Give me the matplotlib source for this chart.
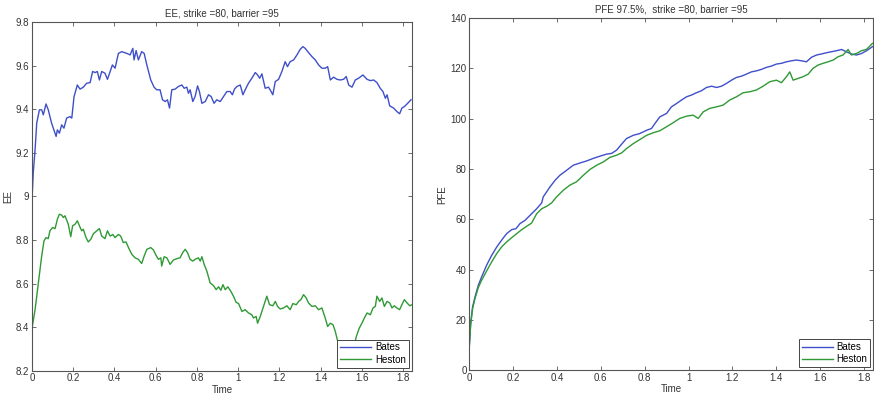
import numpy as np
import matplotlib
matplotlib.use('Agg')
import matplotlib.pyplot as plt

plt.rcParams['font.family'] = ['Liberation Sans', 'DejaVu Sans']

# EE, Bates
ee_bates_t = [0, 0.006, 0.015, 0.023, 0.036, 0.047, 0.055, 0.068, 0.079, 0.095,
              0.117, 0.123, 0.133, 0.144, 0.155, 0.168, 0.184, 0.193, 0.204, 0.220,
              0.233, 0.249, 0.265, 0.282, 0.294, 0.306, 0.317, 0.327, 0.338, 0.354,
              0.366, 0.379, 0.390, 0.403, 0.419, 0.435, 0.460, 0.476, 0.489, 0.495,
              0.505, 0.516, 0.532, 0.544, 0.557, 0.576, 0.592, 0.605, 0.621, 0.633,
              0.646, 0.657, 0.667, 0.678, 0.694, 0.710, 0.727, 0.738, 0.751, 0.759,
              0.767, 0.780, 0.791, 0.803, 0.812, 0.824, 0.840, 0.856, 0.869, 0.883,
              0.896, 0.913, 0.929, 0.945, 0.961, 0.972, 0.982, 0.994, 1.010, 1.023,
              1.034, 1.050, 1.066, 1.083, 1.094, 1.104, 1.115, 1.131, 1.147, 1.155,
              1.168, 1.180, 1.196, 1.212, 1.228, 1.239, 1.252, 1.269, 1.285, 1.301,
              1.314, 1.325, 1.341, 1.358, 1.374, 1.390, 1.406, 1.422, 1.434, 1.447,
              1.463, 1.479, 1.495, 1.511, 1.524, 1.536, 1.552, 1.568, 1.584, 1.605,
              1.625, 1.641, 1.657, 1.673, 1.689, 1.702, 1.714, 1.722, 1.735, 1.754,
              1.770, 1.783, 1.794, 1.806, 1.822, 1.838]
ee_bates = [8.98, 9.107, 9.214, 9.336, 9.397, 9.397, 9.374, 9.424, 9.397, 9.336,
            9.275, 9.305, 9.29, 9.328, 9.313, 9.359, 9.366, 9.359, 9.458, 9.511,
            9.492, 9.501, 9.519, 9.522, 9.573, 9.568, 9.573, 9.534, 9.573, 9.565,
            9.537, 9.573, 9.603, 9.588, 9.656, 9.664, 9.656, 9.649, 9.679, 9.626,
            9.669, 9.626, 9.664, 9.656, 9.603, 9.534, 9.501, 9.489, 9.489, 9.443,
            9.435, 9.443, 9.405, 9.489, 9.492, 9.504, 9.511, 9.496, 9.501, 9.473,
            9.489, 9.435, 9.458, 9.507, 9.481, 9.427, 9.435, 9.466, 9.458, 9.427,
            9.443, 9.435, 9.458, 9.481, 9.481, 9.466, 9.492, 9.504, 9.511, 9.466,
            9.489, 9.519, 9.542, 9.568, 9.557, 9.542, 9.562, 9.496, 9.501, 9.489,
            9.466, 9.527, 9.537, 9.573, 9.618, 9.595, 9.618, 9.626, 9.649, 9.675,
            9.687, 9.679, 9.66, 9.641, 9.626, 9.603, 9.588, 9.588, 9.595, 9.534,
            9.547, 9.537, 9.534, 9.537, 9.55, 9.511, 9.501, 9.534, 9.542, 9.557,
            9.537, 9.531, 9.534, 9.522, 9.496, 9.481, 9.45, 9.466, 9.415, 9.405,
            9.389, 9.379, 9.405, 9.412, 9.427, 9.443]

# EE, Heston
ee_heston_t = [0, 0.015, 0.031, 0.047, 0.058, 0.068, 0.079, 0.087, 0.100, 0.112,
               0.123, 0.133, 0.144, 0.152, 0.160, 0.168, 0.176, 0.188, 0.197, 0.209,
               0.220, 0.230, 0.241, 0.249, 0.262, 0.273, 0.285, 0.298, 0.314, 0.327,
               0.338, 0.354, 0.366, 0.379, 0.392, 0.403, 0.419, 0.430, 0.443, 0.456,
               0.468, 0.484, 0.500, 0.516, 0.532, 0.544, 0.557, 0.576, 0.589, 0.602,
               0.613, 0.625, 0.629, 0.641, 0.654, 0.670, 0.686, 0.702, 0.718, 0.731,
               0.743, 0.754, 0.767, 0.780, 0.791, 0.807, 0.816, 0.824, 0.835, 0.848,
               0.864, 0.880, 0.893, 0.905, 0.916, 0.926, 0.937, 0.950, 0.964, 0.977,
               0.990, 1.002, 1.018, 1.034, 1.050, 1.066, 1.074, 1.087, 1.094, 1.107,
               1.123, 1.139, 1.152, 1.168, 1.180, 1.191, 1.204, 1.220, 1.236, 1.252,
               1.265, 1.282, 1.293, 1.304, 1.317, 1.330, 1.341, 1.358, 1.374, 1.390,
               1.406, 1.422, 1.434, 1.447, 1.460, 1.471, 1.487, 1.503, 1.511, 1.528,
               1.544, 1.560, 1.573, 1.587, 1.600, 1.612, 1.625, 1.641, 1.654, 1.665,
               1.673, 1.686, 1.697, 1.709, 1.722, 1.735, 1.746, 1.757, 1.770, 1.783,
               1.794, 1.806, 1.819, 1.832, 1.843]
ee_heston = [8.395, 8.48, 8.603, 8.726, 8.795, 8.811, 8.806, 8.842, 8.857, 8.852,
             8.895, 8.918, 8.914, 8.903, 8.911, 8.892, 8.872, 8.815, 8.865, 8.872,
             8.888, 8.865, 8.842, 8.849, 8.811, 8.791, 8.803, 8.829, 8.842, 8.852,
             8.818, 8.806, 8.842, 8.818, 8.825, 8.811, 8.825, 8.818, 8.788, 8.791,
             8.765, 8.734, 8.718, 8.711, 8.692, 8.726, 8.757, 8.765, 8.754, 8.729,
             8.711, 8.718, 8.68, 8.723, 8.718, 8.688, 8.708, 8.714, 8.718, 8.742,
             8.757, 8.742, 8.711, 8.703, 8.711, 8.718, 8.703, 8.723, 8.688, 8.657,
             8.603, 8.591, 8.572, 8.585, 8.569, 8.595, 8.572, 8.585, 8.565, 8.542,
             8.514, 8.508, 8.472, 8.48, 8.465, 8.457, 8.442, 8.449, 8.418, 8.449,
             8.495, 8.542, 8.503, 8.498, 8.518, 8.495, 8.483, 8.488, 8.498, 8.48,
             8.508, 8.503, 8.518, 8.526, 8.549, 8.534, 8.511, 8.495, 8.498, 8.48,
             8.488, 8.442, 8.403, 8.418, 8.411, 8.38, 8.318, 8.303, 8.318, 8.28,
             8.265, 8.31, 8.357, 8.395, 8.418, 8.442, 8.465, 8.457, 8.488, 8.495,
             8.542, 8.518, 8.534, 8.495, 8.518, 8.511, 8.488, 8.498, 8.488, 8.48,
             8.503, 8.526, 8.511, 8.498, 8.503]

# PFE 97.5%, Bates
pfe_bates_t = [0, 0.006, 0.015, 0.026, 0.041, 0.056, 0.079, 0.102, 0.125, 0.147,
               0.170, 0.193, 0.213, 0.231, 0.254, 0.277, 0.307, 0.330, 0.337, 0.368,
               0.391, 0.413, 0.444, 0.474, 0.505, 0.535, 0.565, 0.596, 0.626, 0.649,
               0.672, 0.695, 0.717, 0.748, 0.778, 0.809, 0.831, 0.847, 0.869, 0.900,
               0.922, 0.945, 0.968, 0.991, 1.014, 1.036, 1.059, 1.082, 1.105, 1.128,
               1.150, 1.173, 1.196, 1.219, 1.242, 1.264, 1.287, 1.310, 1.333, 1.356,
               1.378, 1.401, 1.424, 1.447, 1.470, 1.492, 1.515, 1.538, 1.561, 1.584,
               1.606, 1.629, 1.652, 1.675, 1.698, 1.720, 1.743, 1.766, 1.789, 1.812,
               1.839]
pfe_bates = [10, 18.7, 25.3, 29.2, 33.8, 37.1, 41.8, 45.7, 49, 51.7,
             54.3, 55.9, 56.3, 58.3, 59.6, 61.6, 64.2, 66.5, 68.9, 72.9,
             75.5, 77.5, 79.5, 81.5, 82.4, 83.2, 84.2, 85.1, 85.9, 86.2,
             87.5, 89.9, 92.1, 93.4, 94.1, 95.4, 96.1, 98.1, 100.7, 102.1,
             104.7, 106, 107.4, 108.7, 109.4, 110.3, 111.1, 112.4, 112.9, 112.4,
             112.9, 114, 115.3, 116.4, 116.9, 117.7, 118.6, 119, 119.6, 120.4,
             120.9, 121.7, 122, 122.6, 123, 123.3, 123, 122.6, 124.4, 125.3,
             125.7, 126.2, 126.6, 127, 127.5, 126.6, 125.7, 125.3, 125.9, 127,
             128.6]

# PFE 97.5%, Heston
pfe_heston_t = [0, 0.006, 0.015, 0.026, 0.041, 0.056, 0.079, 0.102, 0.125, 0.147,
                0.170, 0.193, 0.216, 0.239, 0.261, 0.284, 0.307, 0.330, 0.353, 0.375,
                0.398, 0.429, 0.459, 0.489, 0.520, 0.550, 0.581, 0.611, 0.641, 0.672,
                0.695, 0.717, 0.748, 0.778, 0.809, 0.839, 0.869, 0.900, 0.930, 0.960,
                0.991, 1.021, 1.044, 1.067, 1.097, 1.128, 1.158, 1.188, 1.219, 1.249,
                1.280, 1.310, 1.340, 1.371, 1.401, 1.424, 1.447, 1.462, 1.477, 1.500,
                1.523, 1.546, 1.568, 1.591, 1.614, 1.637, 1.660, 1.682, 1.705, 1.728,
                1.743, 1.766, 1.789, 1.812, 1.839]
pfe_heston = [9.4, 18, 24.6, 28.6, 32.9, 35.8, 39.5, 43.1, 46.4, 49,
              51, 52.7, 54.3, 55.9, 57.2, 58.5, 62.2, 64.2, 65.2, 66.5,
              68.9, 71.6, 73.6, 74.9, 77.5, 79.8, 81.5, 82.8, 84.6, 85.5,
              86.4, 88.1, 90.1, 91.7, 93.4, 94.4, 95.2, 96.8, 98.4, 100.1,
              101, 101.4, 100.1, 102.7, 104.1, 104.7, 105.4, 107.4, 108.7, 110.3,
              110.7, 111.4, 112.9, 114.7, 115.3, 114.3, 116.7, 118.6, 115.3, 116,
              116.7, 117.7, 120, 121.3, 122, 122.6, 123.3, 124.6, 125.3, 127.5,
              125.3, 125.9, 127, 127.5, 129.9]

x_ticks = [0, 0.2, 0.4, 0.6, 0.8, 1, 1.2, 1.4, 1.6, 1.8]
x_tick_labels = ['0', '0.2', '0.4', '0.6', '0.8', '1', '1.2', '1.4', '1.6', '1.8']
ee_ticks = [8.2, 8.4, 8.6, 8.8, 9, 9.2, 9.4, 9.6, 9.8]
ee_tick_labels = ['8.2', '8.4', '8.6', '8.8', '9', '9.2', '9.4', '9.6', '9.8']
pfe_ticks = [0, 20, 40, 60, 80, 100, 120, 140]

blue = '#3f4fc9'
green = '#2f9a35'
axis_col = '#555555'
fs = 7


def style_axes(ax):
  for s in ax.spines.values():
    s.set_color(axis_col)
    s.set_linewidth(0.8)
  ax.tick_params(direction='in', top=True, right=True, length=3, width=0.6,
                 color=axis_col, labelsize=fs, labelcolor='#333333', pad=2)
  ax.set_xticks(x_ticks)
  ax.set_xticklabels(x_tick_labels)
  ax.set_xlim(0, 1.843)
  ax.set_xlabel('Time', fontsize=fs, color='#333333', labelpad=1)


def add_legend(ax, l1, l2):
  leg = ax.legend([l1, l2], ['Bates', 'Heston'], loc='lower right', fontsize=fs,
                  frameon=True, fancybox=False, framealpha=1, edgecolor='#444444',
                  borderaxespad=0.3, handlelength=3.2, handletextpad=0.4,
                  borderpad=0.3, labelspacing=0.25)
  leg.get_frame().set_linewidth(0.7)
  leg.set_zorder(5)


fig = plt.figure(figsize=(8.74, 4.03), dpi=100)

ax1 = fig.add_axes([0.0366, 0.0801, 0.4348, 0.8653])
b1, = ax1.plot(ee_bates_t, ee_bates, color=blue, lw=1.0)
h1, = ax1.plot(ee_heston_t, ee_heston, color=green, lw=1.0)
style_axes(ax1)
ax1.set_ylim(8.2, 9.8)
ax1.set_yticks(ee_ticks)
ax1.set_yticklabels(ee_tick_labels)
ax1.set_ylabel('EE', fontsize=fs, color='#333333', labelpad=2)
ax1.set_title('EE, strike =80, barrier =95', fontsize=fs, color='#333333', pad=4)
add_legend(ax1, b1, h1)

ax2 = fig.add_axes([0.537, 0.0811, 0.4622, 0.8742])
b2, = ax2.plot(pfe_bates_t, pfe_bates, color=blue, lw=1.0)
h2, = ax2.plot(pfe_heston_t, pfe_heston, color=green, lw=1.0)
style_axes(ax2)
ax2.set_ylim(0, 140)
ax2.set_yticks(pfe_ticks)
ax2.set_ylabel('PFE', fontsize=fs, color='#333333', labelpad=2)
ax2.set_title('PFE 97.5%,  strike =80, barrier =95', fontsize=fs, color='#333333', pad=4)
add_legend(ax2, b2, h2)

fig.savefig('out.png', dpi=100)
